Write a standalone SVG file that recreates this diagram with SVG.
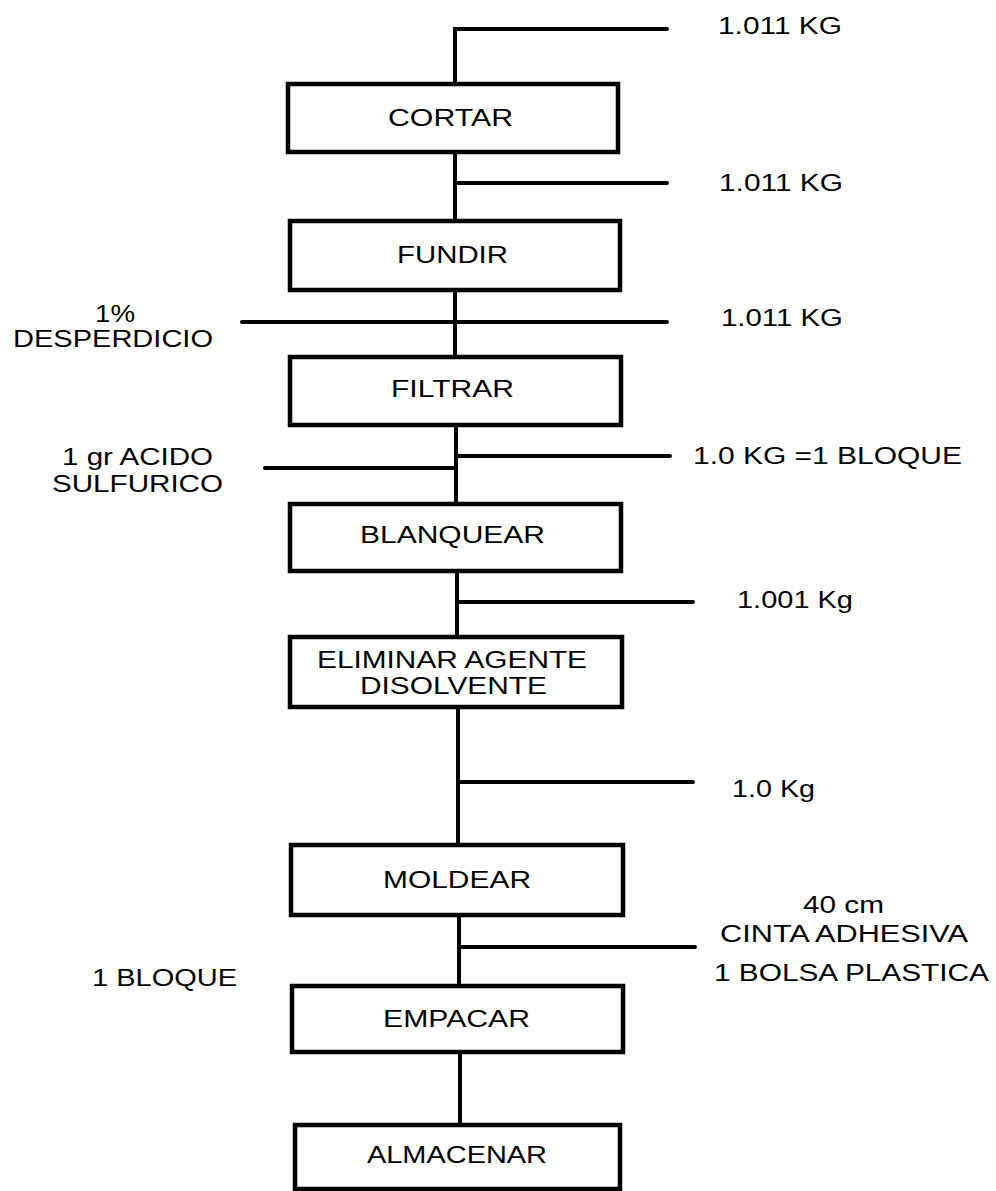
<svg xmlns="http://www.w3.org/2000/svg" width="996" height="1191" viewBox="0 0 996 1191">
<style>
.box{fill:#fff;stroke:#000;stroke-width:4.5}
.ln{fill:none;stroke:#000;stroke-width:4;stroke-linecap:round;stroke-linejoin:miter}
text{font-family:"Liberation Sans",Arial,sans-serif;font-size:23px;fill:#000}
</style>
<rect width="996" height="1191" fill="#fff"/>
<g id="connectors">
<path class="ln" d="M455 84 V29 H667"/>
<path class="ln" d="M455 152 V221 M455 183 H667"/>
<path class="ln" d="M455 290 V357 M242 322 H667"/>
<path class="ln" d="M456 425 V504 M456 456 H670 M265 468 H456"/>
<path class="ln" d="M457 571 V637 M457 602 H693"/>
<path class="ln" d="M458 707 V845 M458 782 H693"/>
<path class="ln" d="M459 915 V986 M459 947 H695"/>
<path class="ln" d="M460 1052 V1125"/>
</g>
<g id="labels">
<text x="718" y="34" textLength="124" lengthAdjust="spacingAndGlyphs">1.011 KG</text>
<text x="719" y="191" textLength="124" lengthAdjust="spacingAndGlyphs">1.011 KG</text>
<text x="721" y="326" textLength="122" lengthAdjust="spacingAndGlyphs">1.011 KG</text>
<text x="95" y="322" textLength="40" lengthAdjust="spacingAndGlyphs">1%</text>
<text x="13" y="347" textLength="200" lengthAdjust="spacingAndGlyphs">DESPERDICIO</text>
<text x="62" y="465" textLength="151" lengthAdjust="spacingAndGlyphs">1 gr ACIDO</text>
<text x="52" y="492" textLength="171" lengthAdjust="spacingAndGlyphs">SULFURICO</text>
<text x="693" y="464" textLength="269" lengthAdjust="spacingAndGlyphs">1.0 KG =1 BLOQUE</text>
<text x="737" y="608" textLength="116" lengthAdjust="spacingAndGlyphs">1.001 Kg</text>
<text x="732" y="797" textLength="83" lengthAdjust="spacingAndGlyphs">1.0 Kg</text>
<text x="803" y="913" textLength="81" lengthAdjust="spacingAndGlyphs">40 cm</text>
<text x="720" y="942" textLength="248" lengthAdjust="spacingAndGlyphs">CINTA ADHESIVA</text>
<text x="714" y="981" textLength="275" lengthAdjust="spacingAndGlyphs">1 BOLSA PLASTICA</text>
<text x="92" y="986" textLength="145" lengthAdjust="spacingAndGlyphs">1 BLOQUE</text>
</g>
<g id="cortar"><rect class="box" x="288" y="84" width="330" height="68"/><text x="388" y="126" textLength="125" lengthAdjust="spacingAndGlyphs">CORTAR</text></g>
<g id="fundir"><rect class="box" x="290" y="221" width="330" height="69"/><text x="397" y="263" textLength="111" lengthAdjust="spacingAndGlyphs">FUNDIR</text></g>
<g id="filtrar"><rect class="box" x="290" y="357" width="331" height="68"/><text x="391" y="397" textLength="123" lengthAdjust="spacingAndGlyphs">FILTRAR</text></g>
<g id="blanquear"><rect class="box" x="290" y="504" width="331" height="67"/><text x="360" y="543" textLength="185" lengthAdjust="spacingAndGlyphs">BLANQUEAR</text></g>
<g id="eliminar"><rect class="box" x="290" y="637" width="332" height="70"/><text x="317" y="668" textLength="270" lengthAdjust="spacingAndGlyphs">ELIMINAR AGENTE</text><text x="360" y="694" textLength="187" lengthAdjust="spacingAndGlyphs">DISOLVENTE</text></g>
<g id="moldear"><rect class="box" x="291" y="845" width="332" height="70"/><text x="383" y="888" textLength="148" lengthAdjust="spacingAndGlyphs">MOLDEAR</text></g>
<g id="empacar"><rect class="box" x="292" y="986" width="331" height="66"/><text x="383" y="1027" textLength="147" lengthAdjust="spacingAndGlyphs">EMPACAR</text></g>
<g id="almacenar"><rect class="box" x="295" y="1125" width="325" height="64"/><text x="367" y="1163" textLength="180" lengthAdjust="spacingAndGlyphs">ALMACENAR</text></g>
</svg>
